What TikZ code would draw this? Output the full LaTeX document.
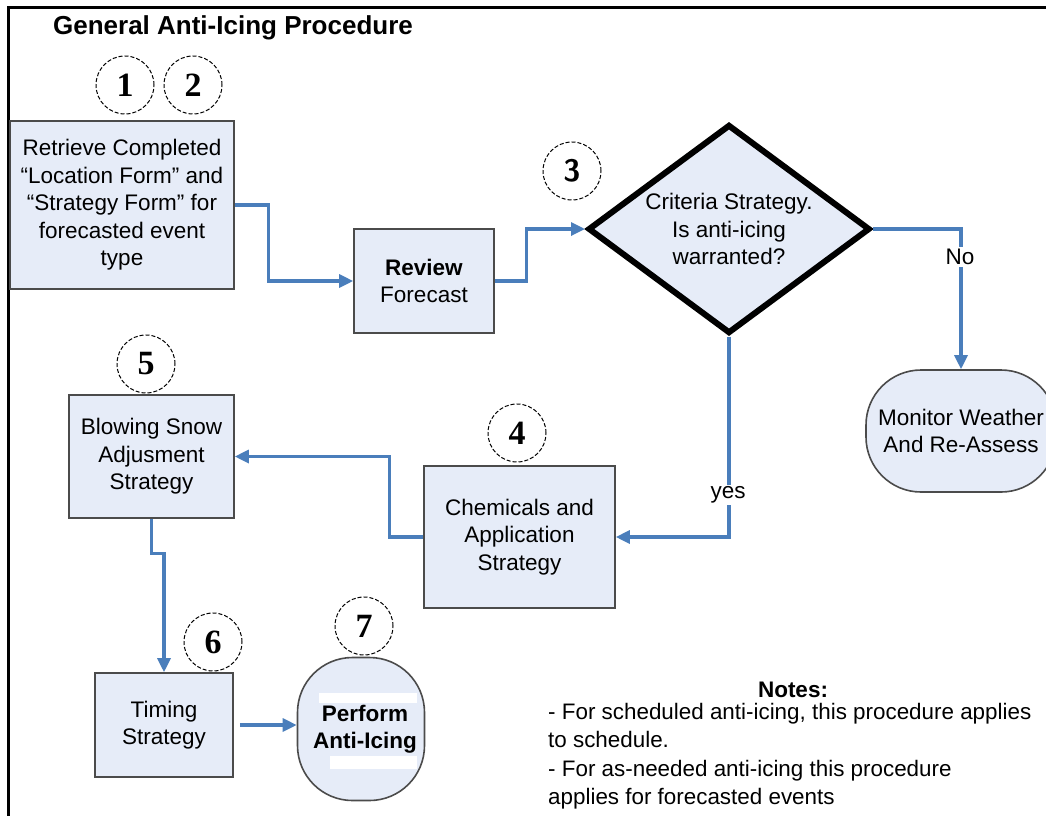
\documentclass[tikz,border=0pt]{standalone}
\usepackage{fontspec}
\setmainfont{Liberation Sans}
\newfontfamily\numfont{Liberation Serif}
\usetikzlibrary{shapes.geometric,arrows.meta,calc}
\definecolor{boxfill}{RGB}{230,236,248}
\definecolor{boxgray}{RGB}{75,75,75}
\definecolor{connblue}{RGB}{74,126,187}
\newcommand{\boxfont}{\fontsize{22.5}{27.5}\selectfont}
\tikzset{
  stepbox/.style={draw=boxgray, line width=1.6pt, fill=boxfill, align=center, inner sep=0pt, font=\boxfont},
  roundbox/.style={stepbox, rounded corners=55pt},
  decision/.style={diamond, draw=black, line width=6pt, fill=boxfill, align=center, inner sep=0pt,
    aspect=1.35, minimum width=282pt, minimum height=209pt, font=\boxfont},
  numcircle/.style={circle, draw=black, line width=1pt, dash pattern=on 4pt off 2pt, fill=white,
    minimum size=58pt, inner sep=0pt, font=\numfont\bfseries\fontsize{34}{34}\selectfont},
  conn/.style={draw=connblue, line width=3.2pt, -{Triangle[length=14pt,width=13pt]}},
  lbl/.style={fill=white, inner sep=2pt, font=\boxfont},
}
\begin{document}
\begin{tikzpicture}[x=1pt,y=-1pt]
\useasboundingbox (0,0) rectangle (1046,815);
% frame
\draw[line width=3pt] (8,820) -- (8,7) -- (1050,7);
% title
\node[font=\bfseries\fontsize{26}{30}\selectfont] (title) at (233,28) {General Anti-Icing Procedure};

% main nodes
\node[stepbox, minimum width=224pt, minimum height=168pt] (box1) at (122,205)
  {Retrieve Completed\\ “Location Form” and\\ “Strategy Form” for\\ forecasted event\\ type};
\node[stepbox, minimum width=140pt, minimum height=104pt] (review) at (424,281)
  {\textbf{Review}\\ Forecast};
\node[decision] (dia) at (729,229) {Criteria Strategy.\\ Is anti-icing\\ warranted?};
\node[roundbox, minimum width=190pt, minimum height=122pt] (mon) at (961,431)
  {Monitor Weather\\ And Re-Assess};
\node[stepbox, minimum width=191pt, minimum height=142pt] (chem) at (519.5,537)
  {Chemicals and\\ Application\\ Strategy};
\node[stepbox, minimum width=165pt, minimum height=123pt] (blow) at (151.5,456.5)
  {Blowing Snow\\ Adjusment\\ Strategy};
\node[stepbox, minimum width=138pt, minimum height=104pt] (timing) at (164,725)
  {Timing\\ Strategy};
\node[roundbox, minimum width=127pt, minimum height=143pt] (perform) at (361,729) {};
\fill[white] (319,693) rectangle (417,703);
\fill[white] (330,756) rectangle (417,769);
\node[font=\bfseries\boxfont, align=center] (performtxt) at (365,729) {Perform\\ Anti-Icing};

% number circles
\node[numcircle] (n1) at (125,85) {1};
\node[numcircle] (n2) at (193,85) {2};
\node[numcircle, font=\sffamily\bfseries\fontsize{31}{31}\selectfont] (n3) at (572,171) {3};
\node[numcircle] (n4) at (517,433) {4};
\node[numcircle] (n5) at (146,364) {5};
\node[numcircle] (n6) at (213,642) {6};
\node[numcircle] (n7) at (364,626) {7};

% connectors
\draw[conn] (box1.east) -- ++(34,0) |- (review.west);
\draw[conn] (review.east) -- ++(32,0) |- (dia.west);
\draw[conn] (dia.east) -| (mon.north);
\draw[conn] (dia.south) |- (chem.east);
\draw[conn] (chem.west) -- ++(-34,0) |- (blow.east);
\draw[conn] (blow.south) -- ++(0,35) -| (timing.north);
\draw[conn] ([xshift=6pt]timing.east) -- (perform.west |- timing.east);

% labels
\node[lbl] (nolbl) at (960,257) {No};
\node[lbl] (yeslbl) at (728,495) {yes};

% notes
\node[font=\bfseries\fontsize{22.5}{27.5}\selectfont] (notestitle) at (793,690) {Notes:};
\node[anchor=north west, align=left, inner sep=0pt, font=\fontsize{22.4}{28.3}\selectfont] (notes) at (548,703)
  {- For scheduled anti-icing, this procedure applies\\ to schedule.\\ - For as-needed anti-icing this procedure\\ applies for forecasted events};
\end{tikzpicture}
\end{document}
